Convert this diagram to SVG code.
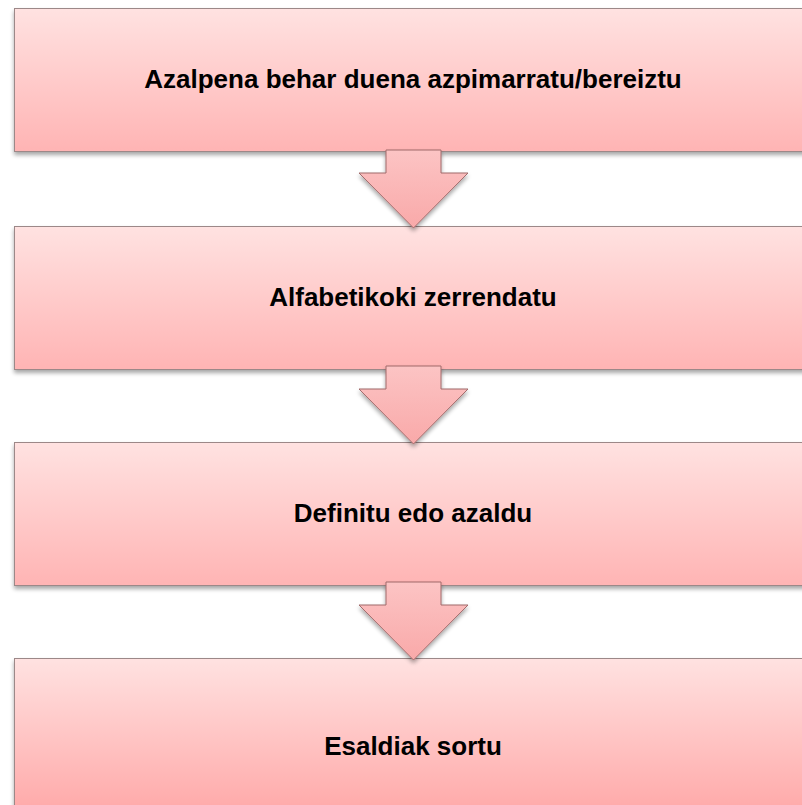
<svg xmlns="http://www.w3.org/2000/svg" width="802" height="805" viewBox="0 0 802 805">
<defs>
<linearGradient id="boxGrad" x1="0" y1="0" x2="0" y2="1">
<stop offset="0" stop-color="#ffe2e1"/>
<stop offset="1" stop-color="#ffb4b4"/>
</linearGradient>
<linearGradient id="box4Grad" gradientUnits="userSpaceOnUse" x1="0" y1="658" x2="0" y2="836">
<stop offset="0" stop-color="#ffe2e1"/>
<stop offset="1" stop-color="#ffa0a0"/>
</linearGradient>
<linearGradient id="arrowGrad" x1="0" y1="0" x2="0" y2="1">
<stop offset="0" stop-color="#fcc4c4"/>
<stop offset="1" stop-color="#f9a9a9"/>
</linearGradient>
<filter id="shadow" x="-5%" y="-10%" width="110%" height="130%">
<feGaussianBlur in="SourceAlpha" stdDeviation="2"/>
<feOffset dx="0" dy="3" result="b"/>
<feComponentTransfer><feFuncA type="linear" slope="0.35"/></feComponentTransfer>
<feMerge><feMergeNode/><feMergeNode in="SourceGraphic"/></feMerge>
</filter>
</defs>
<style>
.box { fill: url(#boxGrad); stroke: #9c8888; stroke-width: 1; filter: url(#shadow); }
.arrow { fill: url(#arrowGrad); stroke: #a06a6a; stroke-width: 1; filter: url(#shadow); }
.label { font-family: "Liberation Sans", Arial, sans-serif; font-weight: bold; font-size: 26px; fill: #000; text-anchor: middle; }
</style>
<g id="node1">
<rect class="box" x="14.5" y="8.5" width="800" height="143"/>
<text class="label" x="413" y="88">Azalpena behar duena azpimarratu/bereiztu</text>
</g>
<g id="node2">
<rect class="box" x="14.5" y="226.5" width="800" height="143"/>
<text class="label" x="413" y="306">Alfabetikoki zerrendatu</text>
</g>
<g id="node3">
<rect class="box" x="14.5" y="442.5" width="800" height="143"/>
<text class="label" x="413" y="522">Definitu edo azaldu</text>
</g>
<g id="node4">
<rect class="box" style="fill:url(#box4Grad)" x="14.5" y="658.5" width="800" height="178"/>
<text class="label" x="413" y="755">Esaldiak sortu</text>
</g>
<g id="connectors">
<polygon class="arrow" points="386,150 441,150 441,173 468,173 413.5,228 359,173 386,173"/>
<polygon class="arrow" points="386,366 441,366 441,389 468,389 413.5,444 359,389 386,389"/>
<polygon class="arrow" points="386,582 441,582 441,605 468,605 413.5,660 359,605 386,605"/>
</g>
</svg>
